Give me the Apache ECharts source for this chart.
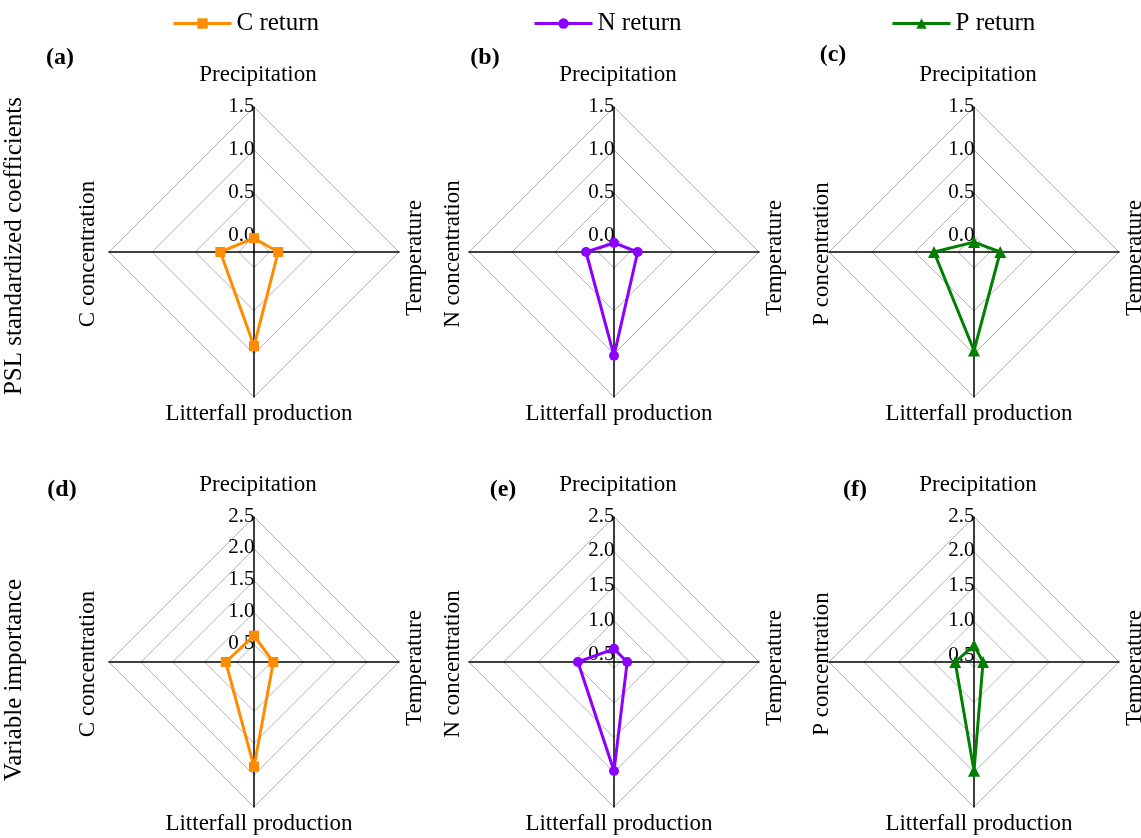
<!DOCTYPE html>
<html><head><meta charset="utf-8">
<script src="https://cdn.jsdelivr.net/npm/echarts@6/dist/echarts.min.js"></script>
<style>html,body{margin:0;padding:0;background:#fff}#main{width:1141px;height:838px}</style>
</head><body><div id="main"></div>
<script>
// ---- data (indicator order: Precipitation, concentration, Litterfall production, Temperature)
const seriesNames = ['C return', 'N return', 'P return'];
const concNames = ['C concentration', 'N concentration', 'P concentration'];
const panelLetters = ['(a)', '(b)', '(c)', '(d)', '(e)', '(f)'];
const rowTitles = ['PSL standardized coefficients', 'Variable importance'];

const cReturnPSL = [-0.02, 0.21, 0.91, 0.10];
const nReturnPSL = [-0.08, 0.14, 1.02, 0.09];
const pReturnPSL = [-0.07, 0.28, 0.96, 0.12];
const cReturnVIP = [0.64, 0.67, 1.87, 0.53];
const nReturnVIP = [0.60, 0.93, 1.98, 0.60];
const pReturnVIP = [0.66, 0.69, 1.98, 0.55];

const pslTicks = [0.0, 0.5, 1.0, 1.5];
const vipTicks = [0.5, 1.0, 1.5, 2.0, 2.5];
const pslAxisMin = [-0.18, -0.185, -0.185];
const vipAxisMin = [0.227, 0.41, 0.42];
const pslAxisMax = 1.5;
const vipAxisMax = 2.5;

// ---- styles / layout
const colors = ['#FF8C00', '#8B00FF', '#008000'];
const symbols = ['rect', 'circle', 'triangle'];
const symbolSizes = [10, 10, 12];
const FONT = "'Liberation Serif', 'Times New Roman', serif";
const centersX = [254, 614, 974];
const centersY = [252, 662];
const leftNameOffset = [-166, -161, -152];
const R = 145;

const panelValues = [cReturnPSL, nReturnPSL, pReturnPSL, cReturnVIP, nReturnVIP, pReturnVIP];

const radars = [];
const series = [];
const graphics = [];

for (let i = 0; i < 6; i++) {
  const row = Math.floor(i / 3), col = i % 3;
  const cx = centersX[col], cy = centersY[row];
  const min = row === 0 ? pslAxisMin[col] : vipAxisMin[col];
  const max = row === 0 ? pslAxisMax : vipAxisMax;
  const ticks = row === 0 ? pslTicks : vipTicks;
  const names = ['Precipitation', concNames[col], 'Litterfall production', 'Temperature'];
  radars.push({
    center: [cx, cy],
    radius: R,
    startAngle: 90,
    shape: 'polygon',
    splitNumber: 4,
    z: 3,
    indicator: names.map(n => ({ name: n, min: min, max: max })),
    axisName: { show: false },
    axisLine: { show: true, lineStyle: { color: '#000', width: 1.5 } },
    splitLine: { show: false },
    splitArea: { show: false },
    axisLabel: { show: false },
    axisTick: { show: false }
  });
  // rings at tick values
  series.push({
    type: 'radar', radarIndex: i, silent: true, z: 1,
    symbol: 'circle', symbolSize: 1,
    itemStyle: { color: '#b4b4b4' },
    lineStyle: { color: '#b4b4b4', width: 1 },
    label: {
      show: true, position: 'left', distance: 0, offset: [1, -1],
      color: '#000', fontSize: 21, fontFamily: FONT,
      formatter: p => (p.dimensionIndex === 0 ? Number(p.value).toFixed(1) : '')
    },
    data: ticks.map(t => ({ value: [t, t, t, t] }))
  });
  // data polygon
  series.push({
    type: 'radar', radarIndex: i, z: 5,
    symbol: symbols[col], symbolSize: symbolSizes[col],
    itemStyle: { color: colors[col] },
    lineStyle: { color: colors[col], width: 3 },
    data: [{ value: panelValues[i] }]
  });
  // axis names
  const nameStyle = { fill: '#000', font: '23px ' + FONT, align: 'center', verticalAlign: 'middle' };
  graphics.push({ type: 'text', x: cx + 4, y: cy - 177, style: Object.assign({ text: names[0] }, nameStyle) });
  graphics.push({ type: 'text', x: cx + 5, y: cy + 162, style: Object.assign({ text: names[2] }, nameStyle) });
  graphics.push({ type: 'text', x: cx + leftNameOffset[col], y: cy + 2, rotation: Math.PI / 2, style: Object.assign({ text: names[1] }, nameStyle) });
  graphics.push({ type: 'text', x: cx + 161, y: cy + 6, rotation: Math.PI / 2, style: Object.assign({ text: names[3] }, nameStyle) });
}

// panel letters
const letterPos = [[60, 58], [485, 58], [833, 55], [62, 490], [503, 490], [855, 490]];
panelLetters.forEach((t, i) => {
  graphics.push({ type: 'text', x: letterPos[i][0], y: letterPos[i][1],
    style: { text: t, fill: '#000', font: 'bold 24px ' + FONT, align: 'center', verticalAlign: 'middle' } });
});
// row titles
graphics.push({ type: 'text', x: 14, y: 246, rotation: Math.PI / 2,
  style: { text: rowTitles[0], fill: '#000', font: '25px ' + FONT, align: 'center', verticalAlign: 'middle' } });
graphics.push({ type: 'text', x: 14, y: 680, rotation: Math.PI / 2,
  style: { text: rowTitles[1], fill: '#000', font: '25px ' + FONT, align: 'center', verticalAlign: 'middle' } });

// dummy line series provide line+symbol legend icons
seriesNames.forEach((n, k) => {
  series.unshift({
    type: 'line', name: n, xAxisIndex: 0, yAxisIndex: 0, data: [],
    symbol: symbols[k], symbolSize: symbolSizes[k],
    itemStyle: { color: colors[k] }, lineStyle: { color: colors[k], width: 3 }
  });
});
const legendLeft = [167, 528, 886];
const legends = seriesNames.map((n, k) => ({
  data: [n], left: legendLeft[k], top: 6, itemWidth: 58, itemHeight: 13, itemGap: 0,
  selectedMode: false,
  lineStyle: { width: 3 },
  textStyle: { fontSize: 25, fontFamily: FONT, color: '#000' }
}));

const chart = echarts.init(document.getElementById('main'), null, { renderer: 'canvas' });
chart.setOption({
  backgroundColor: '#fff',
  animation: false,
  grid: { left: -200, top: -200, width: 10, height: 10, show: false },
  xAxis: { type: 'category', show: false },
  yAxis: { type: 'value', show: false },
  legend: legends,
  radar: radars,
  series: series,
  graphic: graphics
});
</script></body></html>
